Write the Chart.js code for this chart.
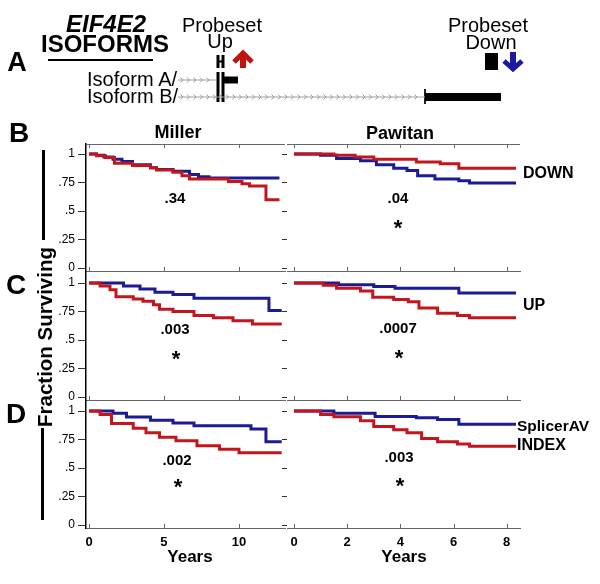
<!DOCTYPE html>
<html>
<head>
<meta charset="utf-8">
<script src="https://cdn.jsdelivr.net/npm/chart.js@4"></script>
<style>
body{margin:0;background:#fff;}
#fig{position:relative;width:600px;height:584px;overflow:hidden;font-family:Arial,"Liberation Sans",sans-serif;color:#000;}
#fig canvas{position:absolute;}
.t{position:absolute;transform:translate(-50%,-50%);white-space:nowrap;line-height:1;}
.l{position:absolute;transform:translate(0,-50%);white-space:nowrap;line-height:1;}
.b{font-weight:bold;}
.bar{position:absolute;background:#000;}
</style>
</head>
<body>
<div id="fig">
  <canvas id="diagram" width="600" height="112" style="left:0;top:0"></canvas>
  <canvas id="mB" width="250" height="136" style="left:40px;top:140px"></canvas>
  <canvas id="pB" width="254" height="136" style="left:276px;top:140px"></canvas>
  <canvas id="mC" width="250" height="136" style="left:40px;top:269px"></canvas>
  <canvas id="pC" width="254" height="136" style="left:276px;top:269px"></canvas>
  <canvas id="mD" width="250" height="163" style="left:40px;top:397px"></canvas>
  <canvas id="pD" width="254" height="163" style="left:276px;top:397px"></canvas>

  <div class="t b" style="left:17px;top:62px;font-size:27px">A</div>
  <div class="t b" style="left:106px;top:24px;font-size:24px;font-style:italic">EIF4E2</div>
  <div class="t b" style="left:105px;top:44px;font-size:24px">ISOFORMS</div>
  <div class="bar" style="left:48px;top:59px;width:105px;height:2px"></div>
  <div class="t" style="left:222px;top:25px;font-size:20px">Probeset</div>
  <div class="t" style="left:220px;top:41px;font-size:20px">Up</div>
  <div class="t" style="left:488px;top:25px;font-size:20px">Probeset</div>
  <div class="t" style="left:491px;top:42px;font-size:20px">Down</div>
  <div class="l" style="left:87px;top:79px;font-size:20px">Isoform A/</div>
  <div class="l" style="left:87px;top:96px;font-size:20px">Isoform B/</div>

  <div class="t b" style="left:19px;top:133px;font-size:28px">B</div>
  <div class="t b" style="left:16px;top:285px;font-size:28px">C</div>
  <div class="t b" style="left:16px;top:414px;font-size:28px">D</div>
  <div class="t b" style="left:178px;top:132px;font-size:18px">Miller</div>
  <div class="t b" style="left:400px;top:133px;font-size:18px">Pawitan</div>

  <div class="t b" style="left:175px;top:197px;font-size:15px">.34</div>
  <div class="t b" style="left:398px;top:197px;font-size:15px">.04</div>
  <div class="t b" style="left:398px;top:228px;font-size:22px">*</div>
  <div class="t b" style="left:175px;top:328px;font-size:15px">.003</div>
  <div class="t b" style="left:176px;top:359px;font-size:22px">*</div>
  <div class="t b" style="left:398px;top:327px;font-size:15px">.0007</div>
  <div class="t b" style="left:399px;top:358px;font-size:22px">*</div>
  <div class="t b" style="left:177px;top:459px;font-size:15px">.002</div>
  <div class="t b" style="left:178px;top:487px;font-size:22px">*</div>
  <div class="t b" style="left:399px;top:456px;font-size:15px">.003</div>
  <div class="t b" style="left:400px;top:486px;font-size:22px">*</div>

  <div class="l b" style="left:523px;top:173px;font-size:16px">DOWN</div>
  <div class="l b" style="left:523px;top:305px;font-size:16px">UP</div>
  <div class="l b" style="left:517px;top:426px;font-size:15.5px">SplicerAV</div>
  <div class="l b" style="left:517px;top:445px;font-size:16px">INDEX</div>

  <div class="t b" style="left:190px;top:556px;font-size:17px">Years</div>
  <div class="t b" style="left:404px;top:556px;font-size:17px">Years</div>
  <div class="t b" style="left:45px;top:337px;font-size:20.5px;transform:translate(-50%,-50%) rotate(-90deg)">Fraction Surviving</div>
  <div class="bar" style="left:42px;top:150px;width:3px;height:90px"></div>
  <div class="bar" style="left:41px;top:428px;width:3px;height:92px"></div>
</div>
<script>
// survival curves, [years, fraction surviving] at each drop
const millerDownIndex = [[0,1],[0.5,0.985],[1.1,0.97],[1.7,0.92],[2.9,0.9],[4.1,0.88],[4.5,0.86],[5.6,0.84],[6.2,0.81],[6.7,0.78],[9.3,0.76],[10.2,0.74],[10.7,0.72],[11.8,0.6],[12.7,0.6]];
const millerDownSplicer = [[0,1],[0.5,0.99],[1,0.975],[1.6,0.955],[2.2,0.935],[2.9,0.905],[4.1,0.88],[4.5,0.865],[5.6,0.85],[6.7,0.82],[7.3,0.8],[8,0.79],[12.7,0.79]];
const pawitanDownIndex = [[0,1],[1.5,0.99],[2.3,0.975],[3.0,0.955],[4.6,0.93],[5.5,0.915],[6.2,0.875],[8.35,0.875]];
const pawitanDownSplicer = [[0,1],[1.0,0.99],[1.6,0.96],[2.5,0.94],[3.1,0.905],[3.75,0.875],[4.25,0.855],[4.65,0.81],[5.3,0.78],[6.2,0.765],[6.6,0.745],[8.35,0.745]];

const millerUpIndex = [[0,1],[0.74,0.975],[1.4,0.94],[1.8,0.88],[2.95,0.86],[3.6,0.84],[4.3,0.81],[4.7,0.77],[5.6,0.75],[7.0,0.715],[8.3,0.695],[9.6,0.67],[10.9,0.64],[12.85,0.64]];
const millerUpSplicer = [[0,1],[2.3,0.975],[3.4,0.947],[4.4,0.92],[5.6,0.9],[7.0,0.866],[12.0,0.76],[12.85,0.76]];
const pawitanUpIndex = [[0,1],[1.1,0.98],[1.6,0.955],[2.5,0.93],[2.96,0.875],[3.75,0.855],[4.3,0.835],[4.7,0.78],[5.4,0.735],[6.15,0.715],[6.6,0.695],[8.35,0.695]];
const pawitanUpSplicer = [[0,1],[1.67,0.985],[3.0,0.97],[3.8,0.955],[6.2,0.912],[8.35,0.912]];

const millerAllIndex = [[0,1],[0.74,0.97],[1.5,0.89],[2.95,0.85],[3.8,0.81],[4.7,0.77],[5.8,0.74],[7.2,0.695],[8.7,0.665],[10.0,0.635],[12.85,0.635]];
const millerAllSplicer = [[0,1],[1.6,0.98],[2.5,0.947],[4.1,0.92],[5.6,0.894],[7.0,0.87],[10.8,0.843],[11.8,0.73],[12.85,0.73]];
const pawitanAllIndex = [[0,1],[1.0,0.97],[1.5,0.95],[2.5,0.915],[3.0,0.865],[3.75,0.835],[4.25,0.81],[4.8,0.76],[5.4,0.73],[6.15,0.71],[6.6,0.69],[8.35,0.69]];
const pawitanAllSplicer = [[0,1],[1.5,0.98],[3.05,0.953],[4.6,0.94],[5.4,0.925],[6.2,0.885],[8.35,0.885]];

const survTicks = [0, 0.25, 0.5, 0.75, 1];
const survLabels = ['0', '.25', '.5', '.75', '1'];
const millerYears = [0, 5, 10];
const pawitanYears = [0, 2, 4, 6, 8];

// gene model for panel A
const intronA = [[178, 80], [216, 80]];
const intronB = [[178, 97], [425, 97]];
const sharedExon1 = [[218, 72], [218, 102]];
const sharedExon2 = [[223, 72], [223, 102]];
const isoAlastExon = [[224, 80], [238, 80]];
const isoBlastExon = [[425, 97], [501, 97]];
const isoBstart = [[425, 89], [425, 104]];
const probeUpLeft = [[218, 55], [218, 68]];
const probeUpRight = [[223, 55], [223, 68]];
const probeUpBar = [[218, 61.5], [223, 61.5]];
const probeDown = [[485, 61.5], [498, 61.5]];
const upArrowShaft = [[243, 68], [243, 55]];
const upArrowHead = [[234, 62], [243, 53], [252, 62]];
const downArrowShaft = [[513, 52], [513, 66]];
const downArrowHead = [[504, 61], [513, 69], [522, 61]];

const RED = '#c3161c';
const BLUE = '#1b1b96';
const pts = a => a.map(p => ({x: p[0], y: p[1]}));

const chevrons = {
  id: 'chevrons',
  afterDatasetsDraw(chart) {
    const ctx = chart.ctx;
    chart.data.datasets.forEach((ds, i) => {
      if (!ds.chevrons) return;
      const d = chart.getDatasetMeta(i).data;
      const x0 = d[0].x, x1 = d[d.length - 1].x, y = d[0].y;
      ctx.save();
      ctx.strokeStyle = '#9a9a9a';
      ctx.lineWidth = 1;
      ctx.beginPath();
      for (let x = x0 + 5; x < x1 - 2; x += 6.5) {
        ctx.moveTo(x - 2.5, y - 2.5);
        ctx.lineTo(x, y);
        ctx.lineTo(x - 2.5, y + 2.5);
      }
      ctx.stroke();
      ctx.restore();
    });
  }
};

function seg(a, color, w, extra) {
  return Object.assign({data: pts(a), showLine: true, borderColor: color, borderWidth: w,
    pointRadius: 0, borderCapStyle: 'butt', borderJoinStyle: 'miter'}, extra || {});
}

new Chart(document.getElementById('diagram'), {
  type: 'scatter',
  data: {datasets: [
    seg(intronA, '#a0a0a0', 1, {chevrons: true}),
    seg(intronB, '#a0a0a0', 1, {chevrons: true}),
    seg(sharedExon1, '#000', 3),
    seg(sharedExon2, '#000', 3),
    seg(isoAlastExon, '#000', 7),
    seg(isoBlastExon, '#000', 8),
    seg(isoBstart, '#000', 1),
    seg(probeUpLeft, '#000', 3),
    seg(probeUpRight, '#000', 3),
    seg(probeUpBar, '#000', 2),
    seg(probeDown, '#000', 17),
    seg(upArrowShaft, '#c0130f', 6),
    seg(upArrowHead, '#c0130f', 5),
    seg(downArrowShaft, '#1a1aa0', 6),
    seg(downArrowHead, '#1a1aa0', 5)
  ]},
  options: {
    responsive: false, animation: false, events: [],
    layout: {padding: 0},
    plugins: {legend: {display: false}, tooltip: {enabled: false}},
    scales: {
      x: {display: false, min: 0, max: 600},
      y: {display: false, min: 0, max: 112, reverse: true}
    }
  },
  plugins: [chevrons]
});

const frame = {
  id: 'frame',
  afterDraw(chart, args, opts) {
    const {ctx, chartArea: a, scales: {x}} = chart;
    ctx.save();
    ctx.strokeStyle = '#666';
    ctx.lineWidth = 1;
    ctx.beginPath();
    x.ticks.forEach(t => {
      const px = Math.round(x.getPixelForValue(t.value)) + 0.5;
      ctx.moveTo(px, a.bottom);
      ctx.lineTo(px, a.bottom - 4);
      if (opts.top) {
        ctx.moveTo(px, a.top);
        ctx.lineTo(px, a.top + 4);
      }
    });
    if (opts.top) {
      ctx.moveTo(a.left, a.top + 0.5);
      ctx.lineTo(a.right, a.top + 0.5);
    }
    ctx.stroke();
    ctx.restore();
  }
};

function panel(id, col, row, index, splicer) {
  const left = col === 0;
  const last = row === 2;
  return new Chart(document.getElementById(id), {
    type: 'line',
    data: {datasets: [
      {data: pts(index), borderColor: RED, borderWidth: 3, stepped: true, pointRadius: 0, fill: false},
      {data: pts(splicer), borderColor: BLUE, borderWidth: 3, stepped: true, pointRadius: 0, fill: false}
    ]},
    options: {
      responsive: false, animation: false, events: [],
      layout: {padding: {top: 4, right: left ? 5 : 10, left: 0, bottom: 0}},
      plugins: {legend: {display: false}, tooltip: {enabled: false}, frame: {top: row === 0}},
      scales: {
        x: {
          type: 'linear',
          min: left ? -0.2 : -0.263,
          max: left ? 13.07 : 8.5,
          afterBuildTicks: s => { s.ticks = (left ? millerYears : pawitanYears).map(v => ({value: v})); },
          afterFit: s => { s.height = last ? 32 : 5; s.paddingLeft = 0; s.paddingRight = 0; },
          grid: {display: false, drawTicks: false},
          border: {display: true, color: '#666', width: 1},
          ticks: {display: last, padding: 7, maxRotation: 0, color: '#000',
                  font: {family: 'Arial', size: 13, weight: 'bold'}}
        },
        y: {
          min: -0.026, max: 1.088,
          afterBuildTicks: s => { s.ticks = survTicks.map(v => ({value: v})); },
          afterFit: s => { s.width = left ? 46 : 11; s.paddingTop = 0; s.paddingBottom = 0; },
          grid: {drawOnChartArea: false, drawTicks: true, tickLength: left ? 8 : 5, color: '#333'},
          border: {display: left, color: '#000', width: 1.5},
          ticks: {display: left, padding: 3, color: '#000', font: {family: 'Arial', size: 12},
                  callback: v => survLabels[survTicks.indexOf(v)]}
        }
      }
    },
    plugins: [frame]
  });
}

panel('mB', 0, 0, millerDownIndex, millerDownSplicer);
panel('pB', 1, 0, pawitanDownIndex, pawitanDownSplicer);
panel('mC', 0, 1, millerUpIndex, millerUpSplicer);
panel('pC', 1, 1, pawitanUpIndex, pawitanUpSplicer);
panel('mD', 0, 2, millerAllIndex, millerAllSplicer);
panel('pD', 1, 2, pawitanAllIndex, pawitanAllSplicer);
</script>
</body>
</html>
